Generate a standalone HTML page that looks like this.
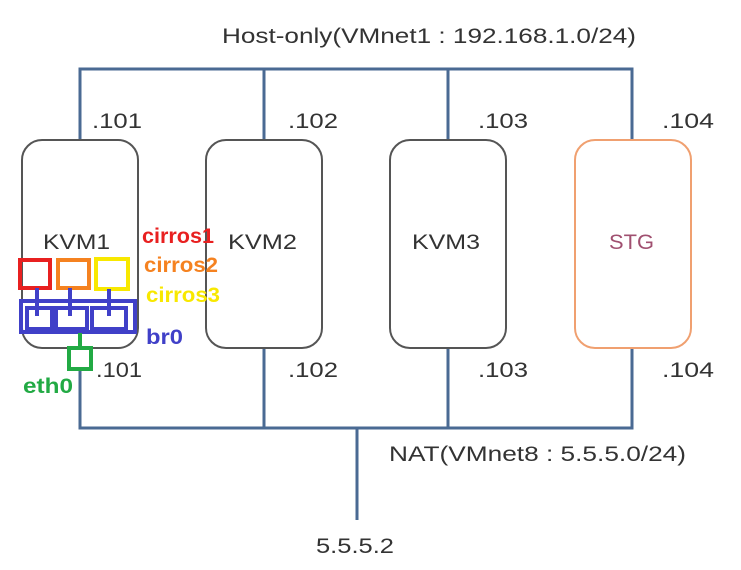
<!DOCTYPE html>
<html><head><style>body{margin:0;background:#fff}svg{display:block}</style></head><body>
<svg width="741" height="570" viewBox="0 0 741 570" xmlns="http://www.w3.org/2000/svg">
<g stroke="#4a6a93" stroke-width="3" fill="none">
<polyline points="80,140 80,69 632,69 632,140"/>
<line x1="264" y1="69" x2="264" y2="140"/>
<line x1="448" y1="69" x2="448" y2="140"/>
<polyline points="80,370 80,428 632,428 632,348"/>
<line x1="264" y1="348" x2="264" y2="428"/>
<line x1="448" y1="348" x2="448" y2="428"/>
<line x1="357" y1="428" x2="357" y2="520"/>
</g>
<g fill="#fff" stroke="#555" stroke-width="2">
<rect x="22" y="140" width="116" height="208" rx="20"/>
<rect x="206" y="140" width="116" height="208" rx="20"/>
<rect x="390" y="140" width="116" height="208" rx="20"/>
<rect x="575" y="140" width="116" height="208" rx="20" stroke="#f0a070"/>
</g>
<g font-family="Liberation Sans, sans-serif" font-size="21" fill="#333">
<text x="222" y="43" textLength="414" lengthAdjust="spacingAndGlyphs">Host-only(VMnet1 : 192.168.1.0/24)</text>
<text x="92" y="128" textLength="50" lengthAdjust="spacingAndGlyphs">.101</text><text x="288" y="128" textLength="50" lengthAdjust="spacingAndGlyphs">.102</text><text x="478" y="128" textLength="50" lengthAdjust="spacingAndGlyphs">.103</text><text x="662" y="128" textLength="52" lengthAdjust="spacingAndGlyphs">.104</text>
<text x="96" y="377" textLength="46" lengthAdjust="spacingAndGlyphs">.101</text><text x="288" y="377" textLength="50" lengthAdjust="spacingAndGlyphs">.102</text><text x="478" y="377" textLength="50" lengthAdjust="spacingAndGlyphs">.103</text><text x="662" y="377" textLength="52" lengthAdjust="spacingAndGlyphs">.104</text>
<text x="43" y="249" textLength="67" lengthAdjust="spacingAndGlyphs">KVM1</text><text x="228" y="249" textLength="69" lengthAdjust="spacingAndGlyphs">KVM2</text><text x="412" y="249" textLength="68" lengthAdjust="spacingAndGlyphs">KVM3</text>
<text x="609" y="249" fill="#a05070" textLength="45" lengthAdjust="spacingAndGlyphs">STG</text>
<text x="389" y="461" textLength="297" lengthAdjust="spacingAndGlyphs">NAT(VMnet8 : 5.5.5.0/24)</text>
<text x="316" y="553" textLength="78" lengthAdjust="spacingAndGlyphs">5.5.5.2</text>
</g>
<g fill="none" stroke-width="4">
<rect x="20" y="260" width="30" height="28" stroke="#e82020"/>
<rect x="58" y="260" width="31" height="28" stroke="#f58220"/>
<rect x="96" y="259" width="32" height="30" stroke="#f8e800"/>
<g stroke="#4040c8">
<rect x="21" y="301" width="114" height="31"/>
<rect x="27" y="308" width="25" height="21"/>
<rect x="56" y="308" width="31" height="21"/>
<rect x="92" y="308" width="34" height="21"/>
<line x1="37" y1="288" x2="37" y2="316"/>
<line x1="70" y1="288" x2="70" y2="316"/>
<line x1="109" y1="289" x2="109" y2="316"/>
</g>
<line x1="80" y1="333" x2="80" y2="348" stroke="#22aa44"/>
<rect x="69" y="348" width="22" height="21" stroke="#22aa44"/>
</g>
<g font-family="Liberation Sans, sans-serif" font-size="21" font-weight="bold">
<text x="142" y="243" fill="#e82020" textLength="72" lengthAdjust="spacingAndGlyphs">cirros1</text>
<text x="144" y="272" fill="#f58220" textLength="74" lengthAdjust="spacingAndGlyphs">cirros2</text>
<text x="146" y="302" fill="#f8e800" textLength="74" lengthAdjust="spacingAndGlyphs">cirros3</text>
<text x="146" y="344" fill="#4040c8" textLength="37" lengthAdjust="spacingAndGlyphs">br0</text>
<text x="23" y="393" fill="#22aa44" textLength="50" lengthAdjust="spacingAndGlyphs">eth0</text>
</g>
</svg>
</body></html>
